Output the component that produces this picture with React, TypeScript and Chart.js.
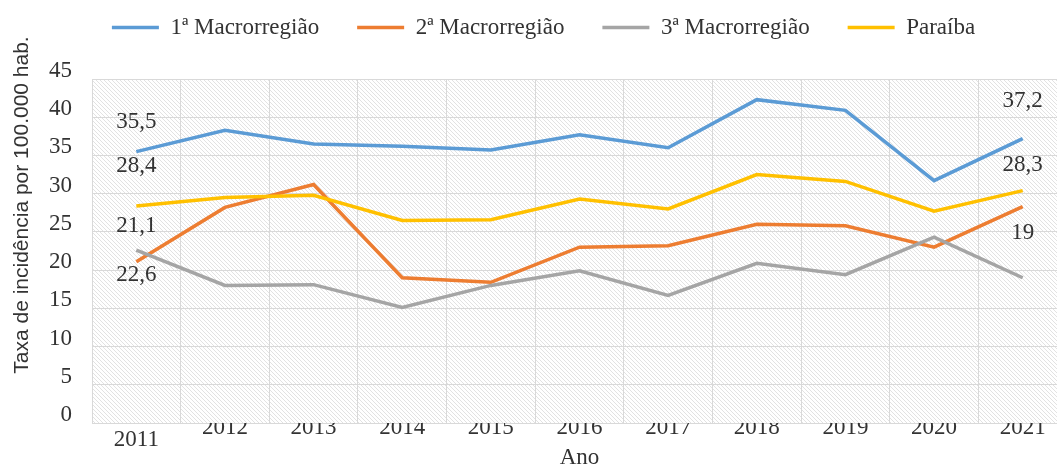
import React, { useEffect, useRef } from 'react';
import { Chart, registerables } from 'chart.js';

Chart.register(...registerables);

// ---- data ----
const years = ['2011', '2012', '2013', '2014', '2015', '2016', '2017', '2018', '2019', '2020', '2021'];
const macro1 = [35.5, 38.3, 36.5, 36.2, 35.7, 37.7, 36.0, 42.3, 40.9, 31.7, 37.2];
const macro2 = [21.1, 28.2, 31.2, 19.0, 18.4, 23.0, 23.2, 26.0, 25.8, 23.0, 28.3];
const macro3 = [22.6, 18.0, 18.1, 15.1, 18.0, 19.9, 16.7, 20.9, 19.4, 24.3, 19];
const paraiba = [28.4, 29.5, 29.8, 26.5, 26.6, 29.3, 28.0, 32.5, 31.6, 27.7, 30.4];

const seriesNames = ['1ª Macrorregião', '2ª Macrorregião', '3ª Macrorregião', 'Paraíba'];
const seriesValues = [macro1, macro2, macro3, paraiba];
const seriesColors = ['#5B9BD5', '#ED7D31', '#A5A5A5', '#FFC000'];

const yMin = 0;
const yMax = 45;
const yStep = 5;
const xTitle = 'Ano';
const yTitle = 'Taxa de incidência por 100.000 hab.';

// data labels shown in the figure: [series, point index]
const labelledPoints: [number, number][] = [
  [0, 0], [3, 0], [1, 0], [2, 0],
  [0, 10], [1, 10], [2, 10],
];
// vertical placement of those labels (pixels relative to the point)
const labelShift = [-30, -40, -36, 25, -38, -42, -45];

const SERIF = '"Liberation Serif", "Times New Roman", serif';
const SANS = '"Liberation Sans", Arial, sans-serif';
const TEXT = '#333333';
const GRID = '#d9d9d9';

const fmt = (v: number) => String(v).replace('.', ',');

const hatchPlugin = {
  id: 'hatchBg',
  beforeDraw(chart: any) {
    const { ctx, chartArea: a } = chart;
    const tile = document.createElement('canvas');
    tile.width = 4;
    tile.height = 4;
    const t = tile.getContext('2d')!;
    t.fillStyle = '#ffffff';
    t.fillRect(0, 0, 4, 4);
    t.strokeStyle = '#e2e2e2';
    t.lineWidth = 1;
    t.beginPath();
    t.moveTo(-1, -1);
    t.lineTo(5, 5);
    t.stroke();
    const pat = ctx.createPattern(tile, 'repeat');
    ctx.save();
    ctx.fillStyle = pat;
    ctx.fillRect(a.left, a.top, a.right - a.left, a.bottom - a.top);
    ctx.restore();
  },
};

const legendHeightPlugin = {
  id: 'legendHeight',
  afterInit(chart: any) {
    const lg = chart.legend;
    if (!lg) return;
    const orig = lg.fit.bind(lg);
    lg.fit = () => {
      orig();
      lg.height = 101;
    };
  },
};

const yTitlePlugin = {
  id: 'yTitle',
  afterDraw(chart: any) {
    const { ctx } = chart;
    ctx.save();
    ctx.translate(22, 205);
    ctx.rotate(-Math.PI / 2);
    ctx.font = `21px ${SANS}`;
    ctx.fillStyle = TEXT;
    ctx.textAlign = 'center';
    ctx.textBaseline = 'middle';
    ctx.fillText(yTitle, 0, 0);
    ctx.restore();
  },
};

const valueLabelPlugin = {
  id: 'valueLabels',
  afterDatasetsDraw(chart: any) {
    const { ctx } = chart;
    ctx.save();
    ctx.font = `23px ${SERIF}`;
    ctx.fillStyle = TEXT;
    ctx.textAlign = 'center';
    ctx.textBaseline = 'middle';
    labelledPoints.forEach(([s, i], k) => {
      const pt = chart.getDatasetMeta(s).data[i];
      if (!pt) return;
      ctx.fillText(fmt(seriesValues[s][i]), pt.x, pt.y + labelShift[k]);
    });
    ctx.restore();
  },
};

export default function App() {
  const ref = useRef<HTMLCanvasElement | null>(null);

  useEffect(() => {
    document.body.style.margin = '0';
    const canvas = ref.current;
    if (!canvas) return;
    const chart = new Chart(canvas, {
      type: 'line',
      data: {
        labels: years,
        datasets: seriesNames.map((name, i) => ({
          label: name,
          data: seriesValues[i],
          borderColor: seriesColors[i],
          backgroundColor: seriesColors[i],
          borderWidth: 3.5,
          pointRadius: 0,
          pointHoverRadius: 0,
          tension: 0,
          fill: false,
          order: seriesNames.length - i,
        })),
      },
      options: {
        responsive: true,
        maintainAspectRatio: false,
        animation: false,
        layout: { padding: { top: -22, left: 20, right: 0, bottom: 0 } },
        plugins: {
          legend: {
            position: 'top',
            labels: {
              usePointStyle: true,
              pointStyle: 'line',
              pointStyleWidth: 47,
              font: { family: SERIF, size: 23 },
              color: TEXT,
              padding: 38,
              sort: (a: any, b: any) => a.datasetIndex - b.datasetIndex,
            },
          },
          tooltip: { enabled: false },
        },
        scales: {
          x: {
            offset: true,
            grid: { offset: true, color: GRID, drawTicks: false },
            border: { color: GRID },
            ticks: {
              padding: -9,
              color: TEXT,
              maxRotation: 0,
              autoSkip: false,
              font: (c: any) => ({ family: SERIF, size: 23, lineHeight: c.index === 0 ? 2.25 : 1.2 }),
            },
            title: {
              display: true,
              text: xTitle,
              color: TEXT,
              font: { family: SERIF, size: 23 },
              padding: { top: 0, bottom: -7 },
            },
            afterFit: (s: any) => {
              s.height = 42;
            },
          },
          y: {
            min: yMin,
            max: yMax,
            grid: { color: GRID, drawTicks: false },
            border: { color: GRID },
            ticks: {
              stepSize: yStep,
              padding: 20,
              labelOffset: -8,
              color: TEXT,
              font: { family: SERIF, size: 23 },
            },
            afterFit: (s: any) => {
              s.width = 72;
            },
          },
        },
      },
      plugins: [hatchPlugin, legendHeightPlugin, yTitlePlugin, valueLabelPlugin],
    });
    return () => chart.destroy();
  }, []);

  return (
    <div style={{ width: 1057, height: 465, overflow: 'hidden', position: 'relative', background: '#fff' }}>
      <div style={{ width: 1067, height: 465, position: 'relative' }}>
        <canvas ref={ref} />
      </div>
    </div>
  );
}
